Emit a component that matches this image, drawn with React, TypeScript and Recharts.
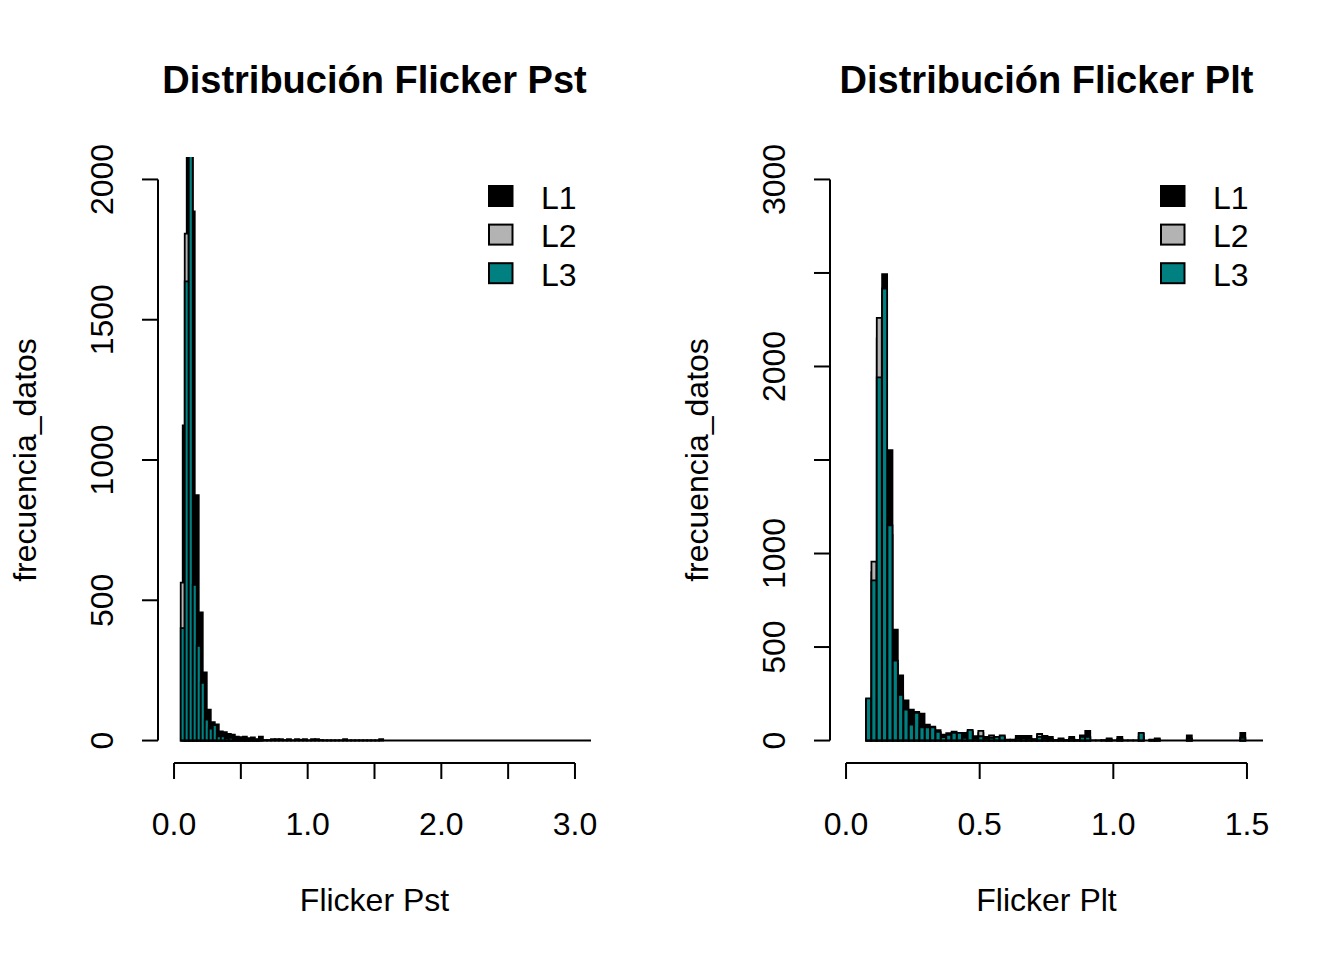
import React from "react";
import { BarChart, Bar, XAxis, YAxis, ReferenceLine, Legend, Label } from "recharts";

const FONT = '"Liberation Sans", Arial, Helvetica, sans-serif';
const PANEL_W = 672;
const PANEL_H = 960;
const MARGIN = { top: 157, right: 81, bottom: 137, left: 98 };
const AXIS_W = 60;
const AXIS_H = 60;
const PLOT_LEFT = MARGIN.left + AXIS_W;
const PLOT_RIGHT = PANEL_W - MARGIN.right;
const PLOT_TOP = MARGIN.top;
const PLOT_BOTTOM = PANEL_H - MARGIN.bottom - AXIS_H;

const seriesNames = ["L1", "L2", "L3"];
const seriesColors = ["#000000", "#b3b3b3", "#008080"];

// ---- Flicker Pst ----
const pstXTicks = [0, 0.5, 1, 1.5, 2, 2.5, 3];
const pstXTickLabels = ["0.0", "", "1.0", "", "2.0", "", "3.0"];
const pstYTicks = [0, 500, 1000, 1500, 2000];
const pstYTickLabels = ["0", "500", "1000", "1500", "2000"];
const pstXDomain = [-0.12, 3.12];
const pstYDomain = [-80, 2080];
// bin start / width of each histogram (L1 has its own breaks)
const pstBreaks = [
  { start: 0.065, width: 0.03 },
  { start: 0.05, width: 0.03 },
  { start: 0.05, width: 0.03 },
];
const pstL1 = [
  1123, 2250, 1886, 875, 457, 243, 110, 66, 58, 33, 30, 24, 21, 14, 12, 14, 9,
  11, 5, 14, 2, 2, 5, 5, 5, 2, 5, 1, 5, 3, 5, 1, 5, 5, 2, 1, 1, 1, 1, 1, 5, 1,
  1, 1, 1, 1, 1, 1, 1, 5,
];
const pstL2 = [563, 1807, 2150, 540, 320, 190, 70, 40, 50, 14, 12, 6, 8, 4, 3, 2, 3, 2, 1, 2];
const pstL3 = [401, 1637, 2200, 555, 338, 206, 75, 43, 55, 15, 15, 8, 10, 5, 4, 3, 4, 2, 2, 3];

// ---- Flicker Plt ----
const pltXTicks = [0, 0.5, 1, 1.5];
const pltXTickLabels = ["0.0", "0.5", "1.0", "1.5"];
const pltYTicks = [0, 500, 1000, 1500, 2000, 2500, 3000];
const pltYTickLabels = ["0", "500", "1000", "", "2000", "", "3000"];
const pltXDomain = [-0.06, 1.56];
const pltYDomain = [-120, 3120];
const pltBreaks = [
  { start: 0.075, width: 0.02 },
  { start: 0.075, width: 0.02 },
  { start: 0.075, width: 0.02 },
];
const pltL1 = [
  215, 900, 2150, 2493, 1553, 593, 349, 215, 165, 153, 144, 85, 75, 55, 32, 39,
  48, 35, 41, 50, 23, 40, 20, 18, 15, 22, 5, 5, 25, 25, 25, 8, 30, 25, 20, 2, 12,
  2, 20, 2, 27, 52, 1, 1, 2, 12, 1, 20, 1, 1, 1, 35, 0, 5, 12, 0, 0, 0, 0, 0, 27,
  0, 0, 0, 0, 0, 0, 0, 0, 0, 41,
];
const pltL2 = [
  220, 957, 2260, 2380, 1100, 410, 230, 150, 80, 140, 65, 60, 65, 40, 15, 25,
  35, 30, 12, 45, 8, 52, 8, 27, 10, 15, 2, 2, 8, 10, 8, 3, 35, 8, 5, 1, 4, 1, 8,
  1, 10, 15, 0, 0, 0, 4, 0, 5, 0, 0, 0, 20, 0, 2, 4, 0, 0, 0, 0, 0, 8, 0, 0, 0,
  0, 0, 0, 0, 0, 0, 12,
];
const pltL3 = [
  226, 856, 1942, 2417, 1150, 427, 245, 165, 85, 148, 71, 71, 71, 46, 18, 30,
  41, 41, 15, 57, 10, 23, 10, 15, 20, 27, 3, 3, 10, 12, 10, 5, 20, 10, 8, 1, 6,
  1, 10, 1, 20, 20, 0, 0, 1, 6, 0, 8, 0, 0, 0, 41, 0, 3, 6, 0, 0, 0, 0, 0, 10, 0,
  0, 0, 0, 0, 0, 0, 0, 0, 15,
];

type Row = { x: number; n: number };

const toRows = (br: { start: number; width: number }, vals: number[]): Row[] =>
  vals.map((n, i) => ({ x: br.start + br.width * (i + 0.5), n }));

type PanelProps = {
  title: string;
  xLabel: string;
  xDomain: number[];
  yDomain: number[];
  xTicks: number[];
  xTickLabels: string[];
  yTicks: number[];
  yTickLabels: string[];
  breaks: { start: number; width: number }[];
  values: number[][];
};

const LegendBox = () => (
  <svg width={110} height={120} style={{ display: "block" }}>
    {seriesNames.map((s, i) => (
      <g key={s}>
        <rect
          x={9}
          y={11 + i * 38.6}
          width={23.5}
          height={20}
          fill={seriesColors[i]}
          stroke="#000"
          strokeWidth={2}
        />
        <text x={61} y={33.5 + i * 38.6} fontSize={32} fontFamily={FONT} fill="#000">
          {s}
        </text>
      </g>
    ))}
  </svg>
);

const Panel = (p: PanelProps) => {
  const layers = p.values.map((vals, i) => toRows(p.breaks[i], vals));
  const baseStart = Math.min(...p.breaks.map((b) => b.start));

  const xTick = (t: any) => {
    const label = p.xTickLabels[p.xTicks.indexOf(t.payload.value)];
    return (
      <text x={t.x} y={PLOT_BOTTOM + 72} textAnchor="middle" fontSize={32} fontFamily={FONT} fill="#000">
        {label}
      </text>
    );
  };
  const yTick = (t: any) => {
    const label = p.yTickLabels[p.yTicks.indexOf(t.payload.value)];
    const bx = PLOT_LEFT - 45;
    return (
      <text
        x={bx}
        y={t.y}
        transform={`rotate(-90, ${bx}, ${t.y})`}
        textAnchor="middle"
        fontSize={32}
        fontFamily={FONT}
        fill="#000"
      >
        {label}
      </text>
    );
  };

  return (
    <div style={{ position: "relative", width: PANEL_W, height: PANEL_H }}>
      <div
        style={{
          position: "absolute",
          left: PLOT_LEFT - 100,
          width: PLOT_RIGHT - PLOT_LEFT + 200,
          top: 61,
          lineHeight: "38px",
          fontSize: 38,
          fontWeight: "bold",
          fontFamily: FONT,
          textAlign: "center",
          color: "#000",
        }}
      >
        {p.title}
      </div>
      {layers.map((rows, i) => {
        const top = i === layers.length - 1;
        return (
          <div key={i} style={{ position: "absolute", left: 0, top: 0 }}>
            <BarChart
              width={PANEL_W}
              height={PANEL_H}
              data={rows}
              margin={MARGIN}
              barCategoryGap={0}
              barGap={0}
            >
              <XAxis
                type="number"
                dataKey="x"
                domain={p.xDomain}
                allowDataOverflow
                ticks={p.xTicks}
                interval={0}
                height={AXIS_H}
                axisLine={false}
                stroke="#000"
                tickSize={16}
                tickLine={top ? { stroke: "#000", strokeWidth: 2 } : false}
                tick={top ? xTick : false}
              >
                {top && (
                  <Label
                    content={() => (
                      <text
                        x={(PLOT_LEFT + PLOT_RIGHT) / 2}
                        y={PLOT_BOTTOM + 148}
                        textAnchor="middle"
                        fontSize={32}
                        fontFamily={FONT}
                        fill="#000"
                      >
                        {p.xLabel}
                      </text>
                    )}
                  />
                )}
              </XAxis>
              <YAxis
                type="number"
                domain={p.yDomain}
                allowDataOverflow
                ticks={p.yTicks}
                interval={0}
                width={AXIS_W}
                axisLine={false}
                stroke="#000"
                tickSize={16}
                tickLine={top ? { stroke: "#000", strokeWidth: 2 } : false}
                tick={top ? yTick : false}
              >
                {top && (
                  <Label
                    content={() => {
                      const cy = (PLOT_TOP + PLOT_BOTTOM) / 2;
                      const bx = PLOT_LEFT - 122;
                      return (
                        <text
                          x={bx}
                          y={cy}
                          transform={`rotate(-90, ${bx}, ${cy})`}
                          textAnchor="middle"
                          fontSize={32}
                          fontFamily={FONT}
                          fill="#000"
                        >
                          frecuencia_datos
                        </text>
                      );
                    }}
                  />
                )}
              </YAxis>
              <Bar
                dataKey="n"
                name={seriesNames[i]}
                fill={seriesColors[i]}
                stroke="#000"
                strokeWidth={1.8}
                isAnimationActive={false}
              />
              {top && (
                <ReferenceLine
                  segment={[
                    { x: baseStart, y: 0 },
                    { x: p.xDomain[1], y: 0 },
                  ]}
                  stroke="#000"
                  strokeWidth={2}
                  ifOverflow="visible"
                />
              )}
              {top && (
                <ReferenceLine
                  segment={[
                    { x: p.xTicks[0], y: p.yDomain[0] },
                    { x: p.xTicks[p.xTicks.length - 1], y: p.yDomain[0] },
                  ]}
                  stroke="#000"
                  strokeWidth={2}
                  ifOverflow="visible"
                />
              )}
              {top && (
                <ReferenceLine
                  segment={[
                    { x: p.xDomain[0], y: p.yTicks[0] },
                    { x: p.xDomain[0], y: p.yTicks[p.yTicks.length - 1] },
                  ]}
                  stroke="#000"
                  strokeWidth={2}
                  ifOverflow="visible"
                />
              )}
              {top && (
                <Legend
                  layout="vertical"
                  align="center"
                  verticalAlign="middle"
                  wrapperStyle={{ left: 480, top: 175, width: 110, height: 120 }}
                  content={() => <LegendBox />}
                />
              )}
            </BarChart>
          </div>
        );
      })}
    </div>
  );
};

export default function App() {
  return (
    <div
      style={{
        position: "absolute",
        left: 0,
        top: 0,
        width: 1344,
        height: 960,
        background: "#fff",
        display: "flex",
      }}
    >
      <Panel
        title="Distribución Flicker Pst"
        xLabel="Flicker Pst"
        xDomain={pstXDomain}
        yDomain={pstYDomain}
        xTicks={pstXTicks}
        xTickLabels={pstXTickLabels}
        yTicks={pstYTicks}
        yTickLabels={pstYTickLabels}
        breaks={pstBreaks}
        values={[pstL1, pstL2, pstL3]}
      />
      <Panel
        title="Distribución Flicker Plt"
        xLabel="Flicker Plt"
        xDomain={pltXDomain}
        yDomain={pltYDomain}
        xTicks={pltXTicks}
        xTickLabels={pltXTickLabels}
        yTicks={pltYTicks}
        yTickLabels={pltYTickLabels}
        breaks={pltBreaks}
        values={[pltL1, pltL2, pltL3]}
      />
    </div>
  );
}
